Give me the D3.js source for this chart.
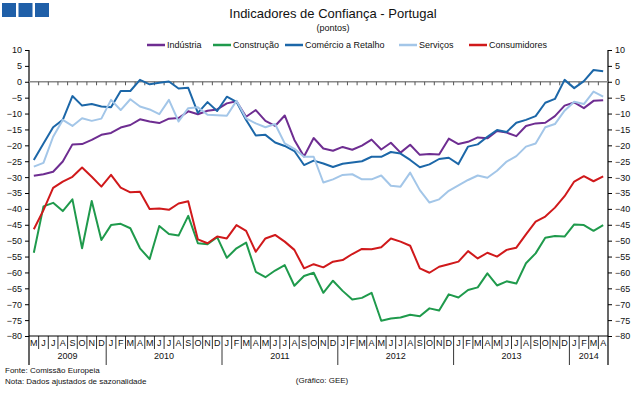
<!DOCTYPE html>
<html>
<head>
<meta charset="utf-8">
<script src="https://cdn.jsdelivr.net/npm/d3@7"></script>
<style>
  body { margin: 0; background: #fff; }
  svg text { font-family: "Liberation Sans", Arial, sans-serif; fill: #111; }
</style>
</head>
<body>
<svg width="643" height="393"></svg>
<script>
// monthly series, May 2009 .. Apr 2014
var industria = [-29.6,-29.1,-28.3,-25.1,-19.7,-19.6,-18.3,-16.7,-16.1,-14.4,
  -13.6,-11.8,-12.5,-13.0,-11.6,-11.4,-9.3,-10.2,-9.1,-8.7,
  -6.8,-6.1,-11.0,-8.9,-12.3,-13.9,-10.6,-18.3,-23.5,-17.7,
  -21.0,-21.7,-20.5,-21.4,-20.1,-18.2,-21.3,-19.2,-22.3,-19.8,
  -23.0,-22.7,-22.9,-17.9,-19.6,-18.9,-17.5,-17.8,-15.5,-16.0,
  -17.1,-13.9,-13.1,-12.9,-10.8,-7.5,-6.5,-8.3,-6.0,-5.8];
var construcao = [-53.8,-39.2,-38.1,-40.7,-37.0,-52.4,-37.5,-49.8,-45.1,-44.7,
  -46.1,-52.4,-55.8,-45.4,-47.9,-48.4,-42.2,-50.8,-51.1,-48.9,
  -55.4,-52.4,-50.6,-59.8,-61.5,-59.4,-57.7,-64.2,-61.1,-60.1,
  -66.4,-62.6,-65.8,-68.5,-68.0,-66.4,-75.2,-74.5,-74.2,-73.3,
  -73.8,-71.3,-72.0,-66.9,-67.9,-65.5,-64.7,-60.3,-64.1,-62.8,
  -63.5,-57.1,-54.0,-49.1,-48.5,-48.7,-44.9,-45.1,-46.9,-45.1];
var comercio = [-24.6,-19.4,-14.3,-12.0,-4.5,-7.5,-7.0,-7.8,-8.0,-2.9,
  -2.9,0.6,-0.8,-0.3,0.1,-2.1,-1.9,-9.8,-6.4,-9.2,
  -4.7,-6.3,-12.0,-16.9,-16.7,-19.1,-20.2,-21.8,-26.2,-24.8,
  -25.7,-26.8,-25.8,-25.4,-25.0,-23.6,-23.6,-22.1,-22.6,-24.6,
  -26.9,-26.0,-24.3,-23.9,-25.9,-20.4,-19.7,-17.3,-15.2,-15.8,
  -12.9,-12.0,-10.8,-6.6,-5.4,0.6,-2.0,0.2,3.7,3.3];
var servicos = [-26.7,-25.5,-17.3,-12.0,-13.9,-11.5,-12.3,-11.6,-5.7,-8.9,
  -5.5,-7.8,-8.7,-10.2,-5.7,-12.5,-8.3,-8.0,-10.4,-10.5,
  -10.7,-6.0,-11.5,-13.1,-14.3,-13.3,-19.4,-21.1,-23.6,-23.6,
  -31.7,-30.7,-29.3,-29.1,-30.7,-30.7,-29.5,-32.7,-33.0,-28.6,
  -34.1,-38.0,-37.0,-34.3,-32.6,-30.9,-29.5,-30.2,-28.0,-25.1,
  -23.4,-20.4,-19.4,-14.3,-13.3,-9.1,-6.3,-7.0,-3.1,-4.7];
var consumidores = [-46.4,-40.4,-33.4,-31.4,-29.9,-27.0,-29.9,-33.0,-29.3,-33.3,
  -34.8,-34.6,-40.0,-39.9,-40.3,-38.3,-37.6,-49.6,-50.8,-48.7,
  -49.3,-45.1,-46.9,-53.5,-49.3,-48.2,-50.3,-52.9,-58.7,-57.4,
  -58.4,-56.6,-56.1,-54.2,-52.6,-52.7,-52.1,-49.3,-50.3,-51.6,
  -58.7,-60.1,-58.2,-57.4,-56.6,-53.3,-55.6,-53.8,-55.0,-52.9,
  -52.2,-48.0,-44.0,-42.4,-39.6,-36.0,-31.4,-29.7,-31.3,-29.8];

var seriesNames = ["Indústria", "Construção", "Comércio a Retalho", "Serviços", "Consumidores"];
var seriesColors = ["#6e2d91", "#1f9a4c", "#1c67a8", "#a3c6e8", "#d0191b"];
var monthLetters = ["J","F","M","A","M","J","J","A","S","O","N","D"];
var yTicks = d3.range(-80, 11, 5);

// categories: 60 months starting May 2009
var months = [];
for (var k = 0; k < 60; k++) {
  var m = (4 + k) % 12, yr = 2009 + Math.floor((4 + k) / 12);
  months.push({ key: yr + "-" + m, letter: monthLetters[m], year: yr, first: m === 0 });
}

var svg = d3.select("svg");
var plotLeft = 29, plotRight = 608, plotTop = 50, plotBottom = 336;

var x = d3.scaleBand().domain(months.map(function(d) { return d.key; })).range([plotLeft, plotRight]);
var y = d3.scaleLinear().domain([-80, 10]).range([plotBottom, plotTop]);

// logo
svg.selectAll("rect.logo")
  .data([0, 1, 2])
  .enter().append("rect")
  .attr("class", "logo")
  .attr("x", function(d) { return 2 + d * 16.5; })
  .attr("y", 3)
  .attr("width", 14)
  .attr("height", 14)
  .attr("fill", "#1f5fa8");

svg.append("text")
  .attr("x", 333).attr("y", 18)
  .attr("text-anchor", "middle")
  .style("font-size", "13px")
  .text("Indicadores de Confiança - Portugal");
svg.append("text")
  .attr("x", 333).attr("y", 31)
  .attr("text-anchor", "middle")
  .style("font-size", "9px")
  .text("(pontos)");

// legend
var legendX = [147, 213, 285, 399, 469];
var legend = svg.selectAll("g.leg")
  .data(seriesNames)
  .enter().append("g")
  .attr("class", "leg")
  .attr("transform", function(d, i) { return "translate(" + legendX[i] + ",45)"; });
legend.append("line")
  .attr("x1", 0).attr("x2", 18)
  .attr("stroke", function(d, i) { return seriesColors[i]; })
  .attr("stroke-width", 2.5);
legend.append("text")
  .attr("x", 20).attr("y", 3)
  .style("font-size", "9px")
  .text(function(d) { return d; });

// y axes
var yAxisL = d3.axisLeft(y).tickValues(yTicks).tickSize(4).tickPadding(3);
var yAxisR = d3.axisRight(y).tickValues(yTicks).tickSize(4).tickPadding(3);
var gl = svg.append("g").attr("transform", "translate(" + plotLeft + ",0)").call(yAxisL);
var gr = svg.append("g").attr("transform", "translate(" + plotRight + ",0)").call(yAxisR);
[gl, gr].forEach(function(g) {
  g.select(".domain").remove();
  g.selectAll("text").style("font-size", "9px").style("font-family", "Liberation Sans, Arial, sans-serif");
  g.selectAll("line").attr("stroke", "#000");
});
svg.selectAll("line.vaxis")
  .data([plotLeft, plotRight])
  .enter().append("line")
  .attr("class", "vaxis")
  .attr("x1", function(d) { return d; }).attr("x2", function(d) { return d; })
  .attr("y1", plotTop).attr("y2", 365)
  .attr("stroke", "#000").attr("stroke-width", 1.2);

// zero line with month ticks
svg.append("line")
  .attr("x1", plotLeft).attr("x2", plotRight)
  .attr("y1", y(0)).attr("y2", y(0))
  .attr("stroke", "#8a8a8a").attr("stroke-width", 1.5);
svg.selectAll("line.zt")
  .data(months.slice(1))
  .enter().append("line")
  .attr("class", "zt")
  .attr("x1", function(d) { return x(d.key); })
  .attr("x2", function(d) { return x(d.key); })
  .attr("y1", y(0)).attr("y2", y(0) + 3.5)
  .attr("stroke", "#555");

// bottom axis
svg.append("line")
  .attr("x1", plotLeft).attr("x2", plotRight)
  .attr("y1", plotBottom).attr("y2", plotBottom)
  .attr("stroke", "#000");
var xAxis = d3.axisBottom(x).tickSize(0).tickPadding(4)
  .tickFormat(function(d, i) { return months[i].letter; });
var gx = svg.append("g").attr("transform", "translate(0," + plotBottom + ")").call(xAxis);
gx.select(".domain").remove();
gx.selectAll("text").style("font-size", "9px").style("font-family", "Liberation Sans, Arial, sans-serif");

svg.selectAll("line.sep")
  .data(months.slice(1))
  .enter().append("line")
  .attr("class", "sep")
  .attr("x1", function(d) { return x(d.key); })
  .attr("x2", function(d) { return x(d.key); })
  .attr("y1", plotBottom)
  .attr("y2", function(d) { return d.first ? 365 : 349; })
  .attr("stroke", "#000").attr("stroke-width", 0.8);

var years = d3.groups(months, function(d) { return d.year; });
svg.selectAll("text.year")
  .data(years)
  .enter().append("text")
  .attr("class", "year")
  .attr("x", function(d) {
    var a = x(d[1][0].key), b = x(d[1][d[1].length - 1].key) + x.bandwidth();
    return (a + b) / 2;
  })
  .attr("y", 359)
  .attr("text-anchor", "middle")
  .style("font-size", "9px")
  .text(function(d) { return d[0]; });

// lines
var allSeries = [industria, construcao, comercio, servicos, consumidores];
var line = d3.line()
  .x(function(d, i) { return x(months[i].key) + x.bandwidth() / 2; })
  .y(function(d) { return y(d); });
svg.selectAll("path.serie")
  .data(allSeries)
  .enter().append("path")
  .attr("class", "serie")
  .attr("fill", "none")
  .attr("stroke", function(d, i) { return seriesColors[i]; })
  .attr("stroke-width", 2)
  .attr("stroke-linejoin", "round")
  .attr("d", line);

// notes
svg.append("text").attr("x", 5).attr("y", 373).style("font-size", "8px").text("Fonte: Comissão Europeia");
svg.append("text").attr("x", 5).attr("y", 384).style("font-size", "8px").text("Nota: Dados ajustados de sazonalidade");
svg.append("text").attr("x", 322).attr("y", 383).attr("text-anchor", "middle").style("font-size", "8px").text("(Gráfico: GEE)");
</script>
</body>
</html>
